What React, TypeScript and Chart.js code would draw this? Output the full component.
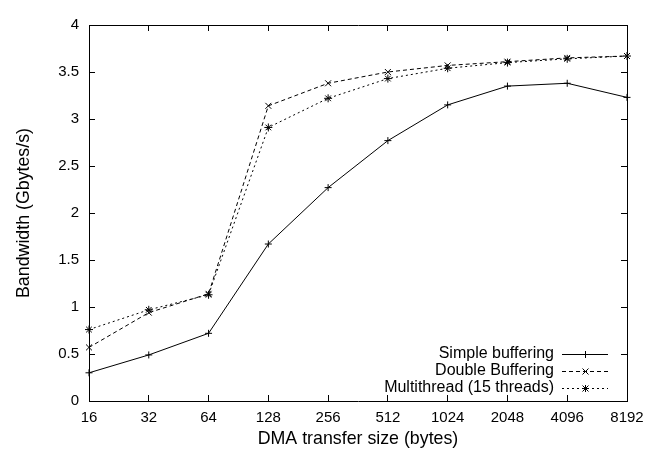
import React, { useEffect, useRef } from 'react';
import { Chart, registerables } from 'chart.js';

Chart.register(...registerables);

const transferSizes = ['16', '32', '64', '128', '256', '512', '1024', '2048', '4096', '8192'];
const simpleBuffering = [0.30, 0.49, 0.72, 1.67, 2.27, 2.77, 3.15, 3.35, 3.38, 3.23];
const doubleBuffering = [0.57, 0.94, 1.14, 3.14, 3.38, 3.50, 3.57, 3.61, 3.65, 3.67];
const multithread = [0.76, 0.97, 1.13, 2.91, 3.22, 3.43, 3.54, 3.60, 3.64, 3.67];
const seriesNames = ['Simple buffering', 'Double Buffering', 'Multithread (15 threads)'];
const yMin = 0;
const yMax = 4;
const yStep = 0.5;

const FONT = 'Liberation Sans, Arial, Helvetica, sans-serif';

function makeSample(dash: number[], marker: string): HTMLCanvasElement {
  const c = document.createElement('canvas');
  c.width = 46;
  c.height = 16;
  const ctx = c.getContext('2d') as CanvasRenderingContext2D;
  ctx.strokeStyle = '#000';
  ctx.lineWidth = 1;
  ctx.setLineDash(dash);
  ctx.beginPath();
  ctx.moveTo(0, 8.5);
  ctx.lineTo(46, 8.5);
  ctx.stroke();
  ctx.setLineDash([]);
  const cx = 23.5;
  const cy = 8.5;
  ctx.beginPath();
  if (marker === 'cross' || marker === 'star') {
    ctx.moveTo(cx - 3.5, cy);
    ctx.lineTo(cx + 3.5, cy);
    ctx.moveTo(cx, cy - 3.5);
    ctx.lineTo(cx, cy + 3.5);
  }
  if (marker === 'crossRot' || marker === 'star') {
    ctx.moveTo(cx - 3, cy - 3);
    ctx.lineTo(cx + 3, cy + 3);
    ctx.moveTo(cx - 3, cy + 3);
    ctx.lineTo(cx + 3, cy - 3);
  }
  ctx.stroke();
  return c;
}

// Place the legend inside the plot, at its bottom-right corner (gnuplot style key).
const legendPlacement = {
  id: 'legendPlacement',
  afterLayout(chart: any) {
    const lg = chart.legend;
    const ca = chart.chartArea;
    if (lg && ca) {
      lg.left = ca.left;
      lg.right = ca.right - 18;
      lg.width = lg.right - lg.left;
      lg.top = ca.top;
      lg.bottom = ca.bottom - 4;
      lg.height = lg.bottom - lg.top;
    }
  },
};

export default function App() {
  const ref = useRef<HTMLCanvasElement | null>(null);

  useEffect(() => {
    if (!ref.current) return;
    const samples = [
      makeSample([], 'cross'),
      makeSample([4, 3], 'crossRot'),
      makeSample([2, 3], 'star'),
    ];
    const common = {
      borderColor: '#000',
      backgroundColor: '#000',
      borderWidth: 1,
      pointBorderColor: '#000',
      pointBackgroundColor: '#000',
      pointBorderWidth: 1,
      fill: false,
      tension: 0,
      clip: false as const,
    };
    const chart = new Chart(ref.current, {
      type: 'line',
      data: {
        labels: transferSizes,
        datasets: [
          { ...common, label: seriesNames[0], data: simpleBuffering, pointStyle: 'cross', pointRadius: 3.5 },
          { ...common, label: seriesNames[1], data: doubleBuffering, borderDash: [4, 3], pointStyle: 'crossRot', pointRadius: 4.2 },
          { ...common, label: seriesNames[2], data: multithread, borderDash: [2, 3], pointStyle: 'star', pointRadius: 4 },
        ],
      },
      options: {
        responsive: false,
        animation: false,
        layout: { padding: { left: 0, right: 33, top: 15, bottom: 0 } },
        scales: {
          x: {
            type: 'category',
            position: 'bottom',
            offset: false,
            grid: { drawOnChartArea: false, drawTicks: true, tickLength: -6, color: '#000', tickColor: '#000' },
            border: { display: true, color: '#000', width: 1 },
            ticks: { color: '#000', font: { family: FONT, size: 15 }, padding: 14, maxRotation: 0, autoSkip: false },
            title: { display: true, text: 'DMA transfer size (bytes)', color: '#000', font: { family: FONT, size: 17.8 }, padding: { top: 0, bottom: 0 } },
            afterFit: (s: any) => { s.height = 49; },
          },
          x2: {
            type: 'category',
            position: 'top',
            labels: transferSizes,
            offset: false,
            grid: { drawOnChartArea: false, drawTicks: true, tickLength: -6, color: '#000', tickColor: '#000' },
            border: { display: true, color: '#000', width: 1 },
            ticks: { display: false, autoSkip: false },
            afterFit: (s: any) => { s.height = 0; },
          },
          y: {
            type: 'linear',
            position: 'left',
            min: yMin,
            max: yMax,
            grid: { drawOnChartArea: false, drawTicks: true, tickLength: -6, color: '#000', tickColor: '#000' },
            border: { display: true, color: '#000', width: 1 },
            ticks: {
              stepSize: yStep,
              color: '#000',
              font: { family: FONT, size: 15 },
              padding: 16,
              callback: (v: any) => String(Number(v)),
            },
            title: { display: true, text: 'Bandwidth (Gbytes/s)', color: '#000', font: { family: FONT, size: 17.8 }, padding: { top: 13, bottom: 0 } },
            afterFit: (s: any) => { s.width = 89; },
          },
          y2: {
            type: 'linear',
            position: 'right',
            min: yMin,
            max: yMax,
            grid: { drawOnChartArea: false, drawTicks: true, tickLength: -6, color: '#000', tickColor: '#000' },
            border: { display: true, color: '#000', width: 1 },
            ticks: { display: false, stepSize: yStep },
            afterFit: (s: any) => { s.width = 0; },
          },
        },
        plugins: {
          tooltip: { enabled: false },
          legend: {
            display: true,
            position: 'chartArea' as any,
            align: 'end',
            rtl: true,
            textDirection: 'ltr',
            labels: {
              color: '#000',
              font: { family: FONT, size: 16 },
              usePointStyle: true,
              pointStyleWidth: 46,
              padding: 1,
              generateLabels: () =>
                seriesNames.map((name, i) => ({
                  text: name,
                  datasetIndex: i,
                  hidden: false,
                  pointStyle: samples[i] as any,
                  fillStyle: '#000',
                  strokeStyle: '#000',
                  lineWidth: 0,
                  fontColor: '#000',
                })),
            },
          },
        },
      },
      plugins: [legendPlacement],
    });
    return () => chart.destroy();
  }, []);

  return (
    <div style={{ position: 'absolute', left: 0, top: 0, width: 660, height: 450, background: '#fff' }}>
      <canvas ref={ref} width={660} height={450} style={{ display: 'block' }} />
    </div>
  );
}
